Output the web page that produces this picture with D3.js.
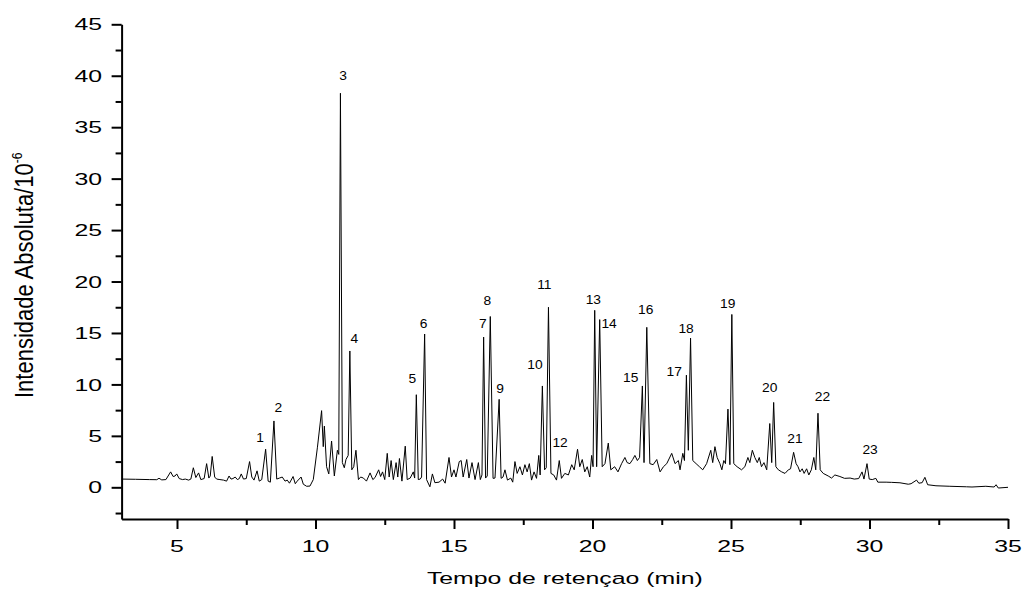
<!DOCTYPE html>
<html>
<head>
<meta charset="utf-8">
<script src="https://cdn.jsdelivr.net/npm/d3@7"></script>
<style>
  html, body { margin: 0; padding: 0; background: #fff; }
  svg { display: block; }
  text { font-family: "Liberation Sans", Arial, sans-serif; fill: #000; }
</style>
</head>
<body>
<svg id="chart" width="1024" height="593"></svg>
<script>
// ---- data ----
const retentionTime = [
  3.0, 3.5, 4.0, 4.27, 4.35, 4.45, 4.6, 4.77, 4.86, 4.93, 4.99, 5.08, 5.2, 5.3, 5.42, 5.5,
  5.59, 5.68, 5.78, 5.86, 5.98, 6.07, 6.15, 6.2, 6.27, 6.36, 6.43, 6.55, 6.68, 6.79, 6.88, 6.95,
  7.02, 7.1, 7.18, 7.25, 7.32, 7.4, 7.5, 7.62, 7.7, 7.78, 7.89, 7.97, 8.06, 8.2, 8.29, 8.37,
  8.5, 8.6, 8.7, 8.8, 8.9, 8.98, 9.06, 9.19, 9.27, 9.34, 9.48, 9.56, 9.68, 9.8, 9.92, 10.07,
  10.22, 10.28, 10.32, 10.4, 10.48, 10.58, 10.68, 10.79, 10.84, 10.9, 10.97, 11.04, 11.1, 11.18, 11.24, 11.31,
  11.38, 11.46, 11.55, 11.63, 11.73, 11.84, 11.97, 12.07, 12.15, 12.28, 12.35, 12.42, 12.5, 12.59, 12.66, 12.73,
  12.81, 12.91, 12.97, 13.03, 13.12, 13.24, 13.31, 13.42, 13.53, 13.58, 13.64, 13.71, 13.78, 13.83, 13.94, 14.01,
  14.13, 14.22, 14.31, 14.46, 14.59, 14.68, 14.82, 14.91, 15.0, 15.07, 15.19, 15.26, 15.33, 15.46, 15.54, 15.65,
  15.76, 15.88, 15.95, 16.01, 16.07, 16.14, 16.2, 16.31, 16.41, 16.48, 16.63, 16.7, 16.77, 16.84, 16.93, 17.05,
  17.12, 17.2, 17.28, 17.38, 17.47, 17.56, 17.64, 17.72, 17.8, 17.89, 17.98, 18.06, 18.11, 18.19, 18.27, 18.33,
  18.41, 18.5, 18.6, 18.7, 18.8, 18.88, 19.0, 19.13, 19.25, 19.34, 19.46, 19.54, 19.63, 19.72, 19.81, 19.9,
  19.97, 20.02, 20.08, 20.15, 20.26, 20.35, 20.45, 20.57, 20.66, 20.8, 20.92, 21.05, 21.17, 21.25, 21.35, 21.45,
  21.53, 21.62, 21.7, 21.8, 21.86, 21.96, 22.07, 22.19, 22.32, 22.44, 22.56, 22.68, 22.86, 22.98, 23.1, 23.16,
  23.26, 23.32, 23.39, 23.46, 23.54, 23.62, 23.74, 23.86, 23.98, 24.12, 24.27, 24.34, 24.42, 24.5, 24.6, 24.67,
  24.74, 24.8, 24.89, 24.96, 25.03, 25.1, 25.22, 25.38, 25.5, 25.61, 25.68, 25.77, 25.86, 25.95, 26.02, 26.1,
  26.19, 26.29, 26.4, 26.47, 26.54, 26.62, 26.71, 26.83, 26.95, 27.07, 27.15, 27.26, 27.35, 27.42, 27.49, 27.57,
  27.64, 27.73, 27.81, 27.9, 27.99, 28.06, 28.14, 28.22, 28.33, 28.51, 28.63, 28.75, 28.93, 29.1, 29.3, 29.45,
  29.61, 29.73, 29.8, 29.91, 29.99, 30.1, 30.23, 30.3, 30.6, 30.8, 31.1, 31.4, 31.5, 31.7, 31.78, 31.9,
  32.0, 32.1, 32.4, 32.9, 33.5, 33.7, 34.2, 34.5, 34.57, 34.65, 35.0
];
const intensity = [
  0.80, 0.78, 0.75, 0.74, 0.88, 0.72, 0.75, 1.5, 1.05, 1.1, 1.3, 0.85, 0.75, 0.8, 0.7, 0.8,
  1.9, 0.95, 1.4, 0.75, 0.85, 2.3, 0.9, 1.1, 3.0, 1.0, 0.8, 0.75, 0.7, 0.6, 1.1, 0.8,
  0.85, 1.0, 0.75, 0.85, 1.3, 0.8, 0.85, 2.5, 1.0, 0.7, 1.6, 0.6, 0.75, 3.7, 0.6, 0.5,
  6.45, 0.8, 0.9, 1.0, 0.6, 0.7, 0.4, 1.05, 0.35, 0.6, 1.0, 0.3, 0.1, 0.12, 0.75, 3.9,
  7.45, 3.95, 5.95, 2.0, 1.3, 4.5, 1.1, 3.6, 3.2, 38.3, 2.4, 1.9, 2.7, 3.1, 13.25, 1.7,
  2.0, 3.6, 0.75, 1.0, 0.9, 0.6, 1.4, 0.75, 0.95, 1.7, 1.05, 1.5, 0.75, 3.3, 1.0, 2.6,
  0.75, 2.4, 1.0, 2.8, 0.6, 4.0, 0.75, 0.9, 1.5, 0.9, 9.0, 0.75, 0.8, 1.0, 14.9, 0.75,
  0.05, 1.3, 0.45, 0.5, 0.8, 0.4, 2.9, 1.0, 1.7, 1.0, 2.5, 2.6, 1.0, 2.7, 0.9, 2.4,
  0.75, 2.4, 0.75, 1.2, 14.6, 0.9, 1.1, 16.6, 0.87, 0.9, 8.55, 0.87, 1.0, 1.7, 0.7, 0.9,
  0.5, 2.5, 1.35, 2.0, 1.2, 2.2, 1.5, 2.3, 0.7, 1.5, 0.87, 3.1, 1.2, 9.85, 1.7, 1.9,
  17.5, 1.35, 1.2, 0.7, 2.6, 0.87, 1.35, 1.2, 2.2, 1.7, 3.7, 2.0, 2.7, 1.5, 2.0, 1.0,
  3.1, 2.0, 17.2, 2.0, 16.3, 2.0, 2.3, 4.3, 1.7, 2.0, 1.5, 2.3, 2.9, 2.4, 2.3, 2.7,
  3.1, 2.6, 2.9, 9.85, 2.4, 15.55, 2.3, 2.2, 2.7, 1.5, 2.0, 2.3, 3.3, 2.3, 2.6, 1.7,
  3.3, 2.6, 10.9, 3.6, 14.5, 2.6, 2.3, 2.0, 1.7, 2.3, 3.6, 2.4, 3.95, 2.9, 2.3, 1.7,
  2.6, 2.3, 7.6, 2.2, 16.8, 2.3, 2.0, 1.7, 2.0, 2.9, 2.4, 3.6, 2.9, 2.4, 2.9, 2.0,
  2.4, 1.7, 6.2, 2.4, 8.25, 2.0, 1.7, 1.5, 1.35, 1.7, 1.8, 3.4, 2.3, 2.0, 1.5, 1.8,
  1.35, 1.8, 1.2, 1.7, 2.9, 1.7, 7.2, 1.7, 1.35, 1.1, 0.9, 1.2, 1.05, 0.87, 0.9, 0.8,
  0.85, 1.5, 0.8, 2.3, 0.8, 0.75, 0.87, 0.5, 0.5, 0.48, 0.44, 0.3, 0.35, 0.7, 0.4, 0.45,
  0.97, 0.25, 0.15, 0.1, 0.05, 0.03, 0.1, 0.03, 0.25, -0.07, 0.0
];

// peak annotations: number, time and intensity of the label anchor (bottom-centre of text)
const peakNumbers   = ["1","2","3","4","5","6","7","8","9","10","11","12","13","14","15","16","17","18","19","20","21","22","23"];
const peakLabelTime = [8.0, 8.66, 11.0, 11.4, 13.5, 13.9, 16.04, 16.2, 16.66, 17.92, 18.26, 18.83, 20.03, 20.6, 21.38, 21.92, 22.95, 23.38, 24.88, 26.4, 27.31, 28.3, 30.02];
const peakLabelValue= [4.43, 7.35, 39.6, 14.05, 10.1, 15.5, 15.5, 17.7, 9.2, 11.47, 19.24, 3.95, 17.8, 15.5, 10.26, 16.8, 10.8, 14.96, 17.4, 9.23, 4.34, 8.39, 3.2];

const xMajorTicks = [5, 10, 15, 20, 25, 30, 35];
const xMinorTicks = [7.5, 12.5, 17.5, 22.5, 27.5, 32.5];
const yMajorTicks = [0, 5, 10, 15, 20, 25, 30, 35, 40, 45];
const yMinorTicks = [-2.5, 2.5, 7.5, 12.5, 17.5, 22.5, 27.5, 32.5, 37.5, 42.5];

const xTitle = "Tempo de retençao (min)";
const yTitle = "Intensidade Absoluta/10";
const yTitleSup = "-6";

// ---- layout ----
const svg = d3.select("#chart");
const plotLeft = 121.6, plotRight = 1008, plotTop = 24.3, plotBottom = 519;
const x = d3.scaleLinear().domain([3, 35]).range([plotLeft, plotRight]);
const y = d3.scaleLinear().domain([-3.08, 45]).range([plotBottom, plotTop]);
const stretch = 1.46;

svg.append("rect").attr("width", 1024).attr("height", 593).attr("fill", "#fff");

// trace
const pts = retentionTime.map((t, i) => [t, intensity[i]]);
svg.append("path")
  .datum(pts)
  .attr("fill", "none")
  .attr("stroke", "#000")
  .attr("stroke-width", 1)
  .attr("stroke-linejoin", "round")
  .attr("d", d3.line().x(d => x(d[0])).y(d => y(d[1])));

// axes
function styleAxis(g) {
  g.selectAll("path, line").attr("stroke", "#000").attr("stroke-width", 2);
  g.selectAll("text").remove();
}
svg.append("g").attr("transform", `translate(0,${plotBottom})`)
  .call(d3.axisBottom(x).tickValues(xMajorTicks).tickSize(10).tickSizeOuter(0))
  .call(styleAxis);
svg.append("g").attr("transform", `translate(0,${plotBottom})`)
  .call(d3.axisBottom(x).tickValues(xMinorTicks).tickSize(6).tickSizeOuter(0))
  .call(g => g.select(".domain").remove())
  .call(styleAxis);
svg.append("g").attr("transform", `translate(${plotLeft},0)`)
  .call(d3.axisLeft(y).tickValues(yMajorTicks).tickSize(10).tickSizeOuter(0))
  .call(styleAxis);
svg.append("g").attr("transform", `translate(${plotLeft},0)`)
  .call(d3.axisLeft(y).tickValues(yMinorTicks).tickSize(6).tickSizeOuter(0))
  .call(g => g.select(".domain").remove())
  .call(styleAxis);

// tick labels (horizontally stretched like the reference)
svg.append("g").selectAll("text").data(yMajorTicks).join("text")
  .attr("transform", d => `translate(102,${y(d)}) scale(${stretch},1)`)
  .attr("text-anchor", "end")
  .attr("dy", "0.36em")
  .attr("font-size", 17)
  .text(d => d);
svg.append("g").selectAll("text").data(xMajorTicks).join("text")
  .attr("transform", d => `translate(${x(d)},552) scale(${stretch},1)`)
  .attr("text-anchor", "middle")
  .attr("font-size", 17)
  .text(d => d);

// axis titles
svg.append("text")
  .attr("transform", `translate(${(plotLeft + plotRight) / 2},584) scale(${stretch},1)`)
  .attr("text-anchor", "middle")
  .attr("font-size", 17)
  .text(xTitle);
const yt = svg.append("text")
  .attr("transform", `translate(33,398) scale(1.15,1) rotate(-90)`)
  .attr("text-anchor", "start")
  .attr("font-size", 22);
yt.append("tspan").text(yTitle);
yt.append("tspan").attr("font-size", 12).attr("dy", -10).text(yTitleSup);

// peak numbers
svg.append("g").selectAll("text").data(peakNumbers).join("text")
  .attr("transform", (d, i) => `translate(${x(peakLabelTime[i])},${y(peakLabelValue[i])}) scale(1.15,1)`)
  .attr("text-anchor", "middle")
  .attr("font-size", 12)
  .text(d => d);
</script>
</body>
</html>
